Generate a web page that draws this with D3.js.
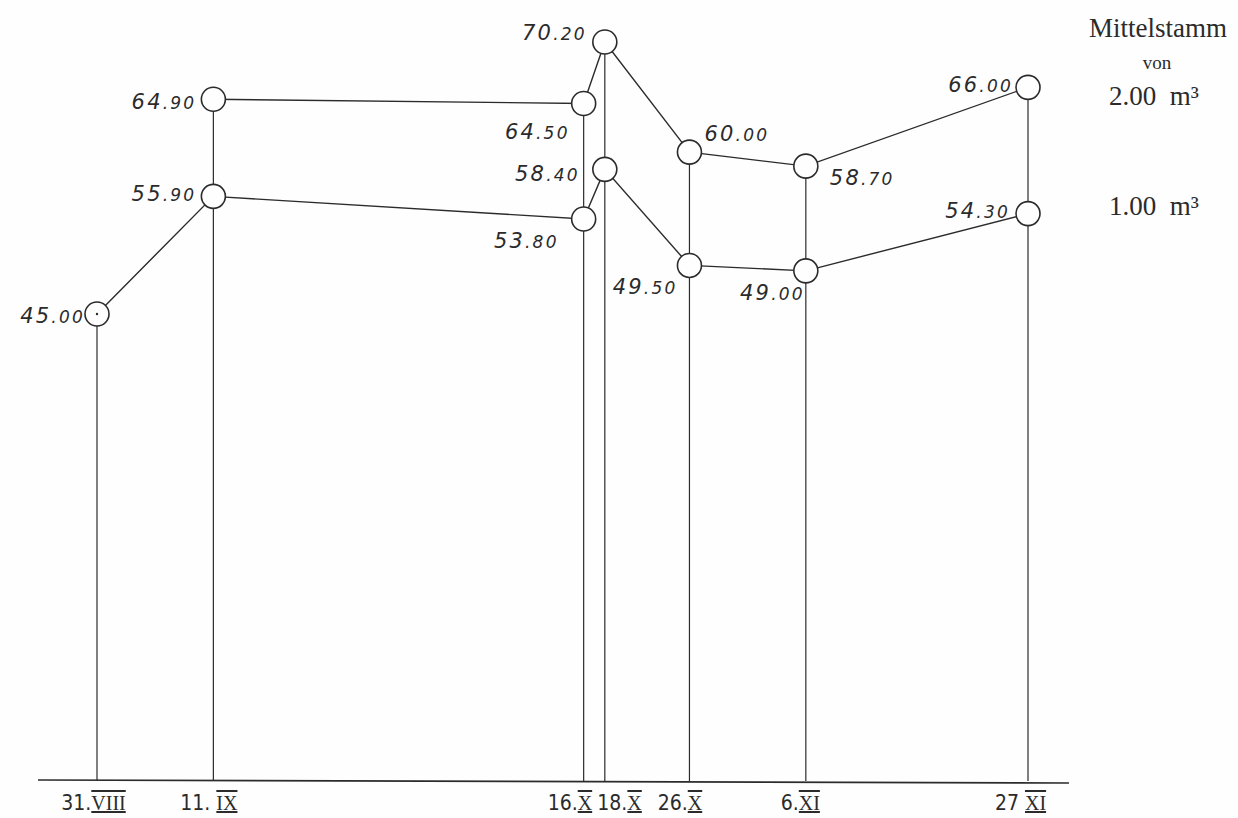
<!DOCTYPE html>
<html>
<head>
<meta charset="utf-8">
<script src="https://cdn.jsdelivr.net/npm/d3@7"></script>
<style>
  html, body { margin: 0; padding: 0; background: #fefefe; }
  svg { display: block; }
</style>
</head>
<body>
<svg id="chart" width="1238" height="818"></svg>
<script>
// ---- data ----
const dates = ["1900-08-31", "1900-09-11", "1900-10-16", "1900-10-18", "1900-10-26", "1900-11-06", "1900-11-27"];
const dayLabels = ["31.", "11. ", "16.", "18.", "26.", "6.", "27 "];
const monthLabels = ["VIII", "IX", "X", "X", "X", "XI", "XI"];
const seriesNames = ["2.00  m³", "1.00  m³"];
const values2m3 = [null, 64.90, 64.50, 70.20, 60.00, 58.70, 66.00];
const values1m3 = [45.00, 55.90, 53.80, 58.40, 49.50, 49.00, 54.30];

// label placement (style only): [dx, dy, anchor]
const place2m3 = [null, [-17, 3, "end"], [-14, 28, "end"], [-18, -9, "end"], [15, -18, "start"], [24, 12, "start"], [-15, -2, "end"]];
const place1m3 = [[-12, 2, "end"], [-17, -2, "end"], [-25, 22, "end"], [-25, 5, "end"], [-12, 22, "end"], [-1, 22, "end"], [-18, -3, "end"]];
const tickPlace = [[-4, "middle"], [-5, "middle"], [8, "end"], [-8, "start"], [-10, "middle"], [-6, "middle"], [-8, "middle"]];

const svg = d3.select("#chart");
const parse = d3.timeParse("%Y-%m-%d");
const dateObjs = dates.map(parse);

const x = d3.scaleTime()
  .domain([dateObjs[0], dateObjs[dateObjs.length - 1]])
  .range([97, 1028]);
const y = d3.scaleLinear().domain([45, 70.2]).range([314, 42]);
const baseY = 781;
const ink = "#2b2b2b";

// baseline
svg.append("line")
  .attr("x1", 38).attr("x2", 1069)
  .attr("y1", baseY - 1).attr("y2", baseY + 2)
  .attr("stroke", ink).attr("stroke-width", 1.6);

// axis tick labels via d3 axis
const axis = d3.axisBottom(x).tickValues(dateObjs).tickSize(0).tickFormat("");
const axG = svg.append("g").attr("transform", `translate(0,${baseY})`).call(axis);
axG.select(".domain").remove();
axG.selectAll(".tick").each(function(d, i) {
  const [dx, anchor] = tickPlace[i];
  const t = d3.select(this).append("text")
    .attr("x", dx)
    .attr("y", 29)
    .attr("text-anchor", anchor)
    .attr("fill", ink);
  t.append("tspan")
    .attr("font-family", "'Liberation Sans Narrow', 'DejaVu Sans Condensed', sans-serif")
    .attr("font-size", 21)
    .text(dayLabels[i]);
  t.append("tspan")
    .attr("font-family", "'Liberation Serif', 'DejaVu Serif', serif")
    .attr("font-size", 20)
    .style("text-decoration", "underline overline")
    .text(monthLabels[i]);
});

// vertical lines: from baseline to top point of each date
dateObjs.forEach((d, i) => {
  const vals = [values2m3[i], values1m3[i]].filter(v => v != null);
  const top = d3.min(vals.map(v => y(v)));
  svg.append("line")
    .attr("x1", x(d)).attr("x2", x(d))
    .attr("y1", baseY).attr("y2", top)
    .attr("stroke", ink).attr("stroke-width", 1.2);
});

// series lines
const lineGen = d3.line()
  .defined(d => d.v != null)
  .x(d => x(d.d))
  .y(d => y(d.v));
[values2m3, values1m3].forEach(vals => {
  const pts = vals.map((v, i) => ({ d: dateObjs[i], v }));
  svg.append("path")
    .datum(pts)
    .attr("d", lineGen)
    .attr("fill", "none")
    .attr("stroke", ink)
    .attr("stroke-width", 1.4);
});

// circles + labels
function fmtParts(v) {
  const s = v.toFixed(2);
  const [a, b] = s.split(".");
  return [a, "." + b];
}
[[values2m3, place2m3], [values1m3, place1m3]].forEach(([vals, place]) => {
  vals.forEach((v, i) => {
    if (v == null) return;
    const cx = x(dateObjs[i]), cy = y(v);
    svg.append("circle")
      .attr("cx", cx).attr("cy", cy).attr("r", 12)
      .attr("fill", "#fefefe")
      .attr("stroke", ink).attr("stroke-width", 1.6);
    const [dx, dy, anchor] = place[i];
    const [ip, dp] = fmtParts(v);
    const t = svg.append("text")
      .attr("x", cx + dx).attr("y", cy + dy + 7)
      .attr("text-anchor", anchor)
      .attr("font-family", "'DejaVu Sans', sans-serif")
      .attr("font-style", "italic")
      .attr("font-weight", 300)
      .attr("letter-spacing", 2.2)
      .attr("fill", ink);
    t.append("tspan").attr("font-size", 21).text(ip);
    t.append("tspan").attr("font-size", 17).text(dp);
  });
});
// small centre dot in the first circle
svg.append("circle")
  .attr("cx", x(dateObjs[0])).attr("cy", y(values1m3[0])).attr("r", 1.2)
  .attr("fill", ink);

// legend
const lg = svg.append("g").attr("fill", ink).attr("text-anchor", "middle");
lg.append("text").attr("x", 1158).attr("y", 37)
  .attr("font-family", "'Liberation Serif', 'DejaVu Serif', serif")
  .attr("font-size", 27).text("Mittelstamm");
lg.append("text").attr("x", 1157).attr("y", 69)
  .attr("font-family", "'Liberation Serif', 'DejaVu Serif', serif")
  .attr("font-size", 19).text("von");
lg.selectAll("text.series")
  .data(seriesNames)
  .join("text")
  .attr("class", "series")
  .attr("x", 1154)
  .attr("y", (d, i) => i === 0 ? 105 : 215)
  .attr("font-family", "'Liberation Serif', 'DejaVu Serif', serif")
  .attr("font-size", 27)
  .attr("xml:space", "preserve")
  .style("white-space", "pre")
  .text(d => d);
</script>
</body>
</html>
